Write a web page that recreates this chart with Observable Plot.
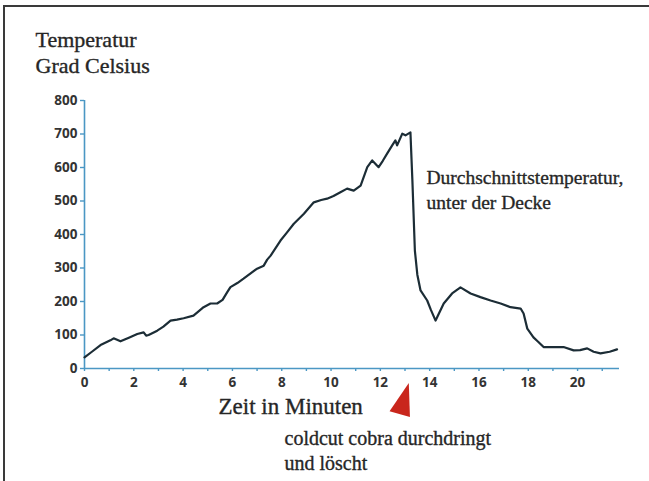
<!DOCTYPE html>
<html>
<head>
<meta charset="utf-8">
<script src="https://cdn.jsdelivr.net/npm/d3@7"></script>
<script src="https://cdn.jsdelivr.net/npm/@observablehq/plot@0.6"></script>
<style>
  html, body { margin: 0; padding: 0; background: #fff; }
  #wrap { position: relative; width: 649px; height: 481px; overflow: hidden; background: #fff; }
  #frame { position: absolute; left: 3px; top: 5px; width: 700px; height: 520px;
           border-left: 2px solid #3a3a3a; border-top: 2px solid #3a3a3a; }
  #chart { position: absolute; left: 0; top: 0; }
</style>
</head>
<body>
<div id="wrap"><div id="frame"></div><div id="chart"></div></div>
<script>
// Zeit in Minuten
const minutes = [0,0.3,0.65,1.05,1.18,1.46,1.8,2.14,2.4,2.5,2.6,2.95,3.2,3.49,3.75,4.02,4.42,4.83,5.11,5.38,5.6,5.79,5.92,6.2,6.45,7.0,7.27,7.41,7.55,7.95,8.2,8.49,8.9,9.3,9.6,9.84,10.1,10.38,10.65,10.92,11.2,11.47,11.67,11.93,12.1,12.28,12.48,12.61,12.68,12.89,13.02,13.22,13.3,13.4,13.5,13.63,13.9,14.05,14.24,14.57,14.91,15.25,15.66,16.06,16.47,16.88,17.28,17.69,17.81,17.96,18.21,18.4,18.62,19.03,19.43,19.84,20.1,20.39,20.65,20.93,21.3,21.6];
// Durchschnittstemperatur unter der Decke, Grad Celsius
const temps = [33,50,70,84,90,81,92,103,108,98,100,113,125,143,146,150,158,183,194,194,205,228,243,255,268,298,307,325,337,382,405,432,462,496,503,507,515,526,537,531,546,601,621,601,620,642,666,681,666,701,696,705,560,352,280,233,203,175,143,194,224,242,224,213,203,194,183,179,164,119,93,80,64,64,64,54,55,60,50,45,50,57];

const xTickLabels = [0,2,4,6,8,10,12,14,16,18,20];
const xMinorTicks = d3.range(0, 22, 1);
const yTickLabels = [0,100,200,300,400,500,600,700,800];
const yTitle = ["Temperatur", "Grad Celsius"];
const xTitle = "Zeit in Minuten";
const lineNote = ["Durchschnittstemperatur,", "unter der Decke"];
const eventNote = ["coldcut cobra durchdringt", "und löscht"];
const eventTime = [13];

const data = minutes.map((t, i) => ({t, temp: temps[i]}));

const axisColor = "#4b97c4";
const textColor = "#262626";
const serif = "'Liberation Serif', 'Times New Roman', serif";

// narrow, leaning marker shape (like the red pointer in the original)
const pointer = {
  draw(context, size) {
    const k = Math.sqrt(size) / 18;
    context.moveTo(6 * k, -19 * k);
    context.lineTo(7 * k, 11 * k);
    context.lineTo(-11 * k, 6 * k);
    context.closePath();
  }
};

const serifText = {fontFamily: serif, fill: textColor, stroke: textColor, strokeWidth: 0.35,
                   textAnchor: "start", lineAnchor: "middle"};

const chart = Plot.plot({
  width: 649,
  height: 481,
  marginLeft: 84,
  marginRight: 30,
  marginTop: 100,
  marginBottom: 113,
  x: {domain: [0, 21.7]},
  y: {domain: [0, 800]},
  style: {background: "transparent", fontFamily: "'Open Sans', sans-serif", overflow: "visible"},
  marks: [
    Plot.ruleY([0], {x1: 0, x2: 21.7, stroke: axisColor, strokeWidth: 1.6}),
    Plot.ruleX([0], {y1: 0, y2: 800, stroke: axisColor, strokeWidth: 1.6}),
    Plot.axisX({ticks: xMinorTicks, tickSize: 3, stroke: axisColor, strokeWidth: 1.4, text: null, label: null}),
    Plot.axisX({ticks: xTickLabels, tickSize: 0, tickPadding: 9, fontSize: 13.5, fontWeight: 700,
                fill: "#333", label: null}),
    Plot.axisY({ticks: yTickLabels, tickSize: 4, stroke: axisColor, strokeWidth: 1.4, tickPadding: 3,
                fontSize: 13.5, fontWeight: 700, fill: "#333", label: null}),
    Plot.line(data, {x: "t", y: "temp", stroke: "#1c2d36", strokeWidth: 2.2, curve: "linear"}),
    Plot.dot(eventTime, {x: d => d, y: 0, symbol: pointer, r: 11.5, fill: "#c9261c",
                         stroke: "none", dy: 36, dx: -3}),
    Plot.text([yTitle.join("\n")], {...serifText, frameAnchor: "top-left", text: d => d, dx: -49, dy: -49,
      lineHeight: 1.2, fontSize: 22}),
    Plot.text([xTitle], {...serifText, frameAnchor: "bottom-left", text: d => d, dx: 134, dy: 38,
      fontSize: 23}),
    Plot.text([lineNote.join("\n")], {...serifText, frameAnchor: "top-left", text: d => d, dx: 342, dy: 88,
      lineHeight: 1.3, fontSize: 19.5}),
    Plot.text([eventNote.join("\n")], {...serifText, frameAnchor: "bottom-left", text: d => d, dx: 200, dy: 81,
      lineHeight: 1.25, fontSize: 20})
  ]
});
document.getElementById("chart").appendChild(chart);
</script>
</body>
</html>
